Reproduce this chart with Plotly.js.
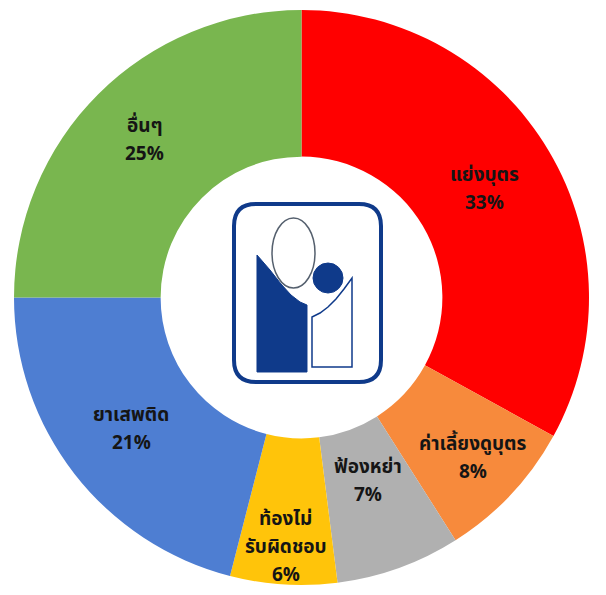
<!DOCTYPE html>
<html>
<head>
<meta charset="utf-8">
<script src="https://cdn.plot.ly/plotly-3.0.1.min.js"></script>
<style>html,body{margin:0;padding:0;background:#fff;}#chart{width:606px;height:595px;}</style>
</head>
<body>
<div id="chart"></div>
<script>
// ---- data ----
var categories = ["แย่งบุตร", "ค่าเลี้ยงดูบุตร", "ฟ้องหย่า", "ท้องไม่ รับผิดชอบ", "ยาเสพติด", "อื่นๆ"];
var labelLines = [["แย่งบุตร"], ["ค่าเลี้ยงดูบุตร"], ["ฟ้องหย่า"], ["ท้องไม่", "รับผิดชอบ"], ["ยาเสพติด"], ["อื่นๆ"]];
var values = [33, 8, 7, 6, 21, 25];
var colors = ["#FF0000", "#F78A3C", "#B0B0B0", "#FFC40A", "#4E7ED2", "#79B64F"];

// ---- layout helpers ----
var W = 606, H = 595;
var dom = {x0: 13, x1: 590, y0: 10, y1: 585};
var cx = (dom.x0 + dom.x1) / 2, cy = (dom.y0 + dom.y1) / 2;
var R = Math.min(dom.x1 - dom.x0, dom.y1 - dom.y0) / 2;
var labelRadius = [0.74, 0.82, 0.68, 0.87, 0.75, 0.77];
var lineStep = 28;
var fontSpec = {family: "Tahoma, 'Noto Sans Thai', 'Noto Sans', 'DejaVu Sans', sans-serif", size: 19, color: '#151515'};

var total = values.reduce(function(a, b){ return a + b; }, 0);
var annotations = [];
var cum = 0;
for (var i = 0; i < values.length; i++) {
  var mid = (cum + values[i] / 2) / total * 2 * Math.PI;
  cum += values[i];
  var rr = R * labelRadius[i];
  var px = cx + rr * Math.sin(mid);
  var py = cy - rr * Math.cos(mid);
  var pct = Math.round(values[i] / total * 100);
  var lines = labelLines[i].concat([pct + '%']);
  for (var j = 0; j < lines.length; j++) {
    var ly = py + (j - (lines.length - 1) / 2) * lineStep;
    annotations.push({
      xref: 'paper', yref: 'paper',
      x: px / W, y: 1 - ly / H,
      xanchor: 'center', yanchor: 'middle',
      showarrow: false,
      borderpad: 0, borderwidth: 0,
      text: '<b>' + lines[j] + '</b>',
      font: fontSpec
    });
  }
}

// logo (decorative) in the hole
var navy = '#0F3A8A';
function P(x, y) { return (x / W).toFixed(5) + ',' + (1 - y / H).toFixed(5); }
function pathOf(pts) {
  var s = 'M' + P(pts[0][0], pts[0][1]);
  for (var k = 1; k < pts.length; k++) s += ' L' + P(pts[k][0], pts[k][1]);
  return s + ' Z';
}
function roundRect(x0, y0, x1, y1, r) {
  var s = 'M' + P(x0 + r, y0);
  s += ' L' + P(x1 - r, y0) + ' Q' + P(x1, y0) + ' ' + P(x1, y0 + r);
  s += ' L' + P(x1, y1 - r) + ' Q' + P(x1, y1) + ' ' + P(x1 - r, y1);
  s += ' L' + P(x0 + r, y1) + ' Q' + P(x0, y1) + ' ' + P(x0, y1 - r);
  s += ' L' + P(x0, y0 + r) + ' Q' + P(x0, y0) + ' ' + P(x0 + r, y0) + ' Z';
  return s;
}
var shapes = [
  {type: 'path', xref: 'paper', yref: 'paper', layer: 'above',
   path: roundRect(234, 204, 381, 382, 22), line: {color: navy, width: 4}, fillcolor: 'rgba(0,0,0,0)'},
  {type: 'path', xref: 'paper', yref: 'paper', layer: 'above',
   path: pathOf([[257,255],[270,270],[281,284],[291,295],[300,302],[307,305],[307,372],[257,372]]),
   line: {color: navy, width: 1}, fillcolor: navy},
  {type: 'path', xref: 'paper', yref: 'paper', layer: 'above',
   path: pathOf([[312,367],[312,317],[320,313],[328,307],[336,299],[344,289],[352,278],[352,367]]),
   line: {color: navy, width: 1.5}, fillcolor: 'rgba(0,0,0,0)'},
  {type: 'circle', xref: 'paper', yref: 'paper', layer: 'above',
   x0: 272/W, x1: 315/W, y0: 1 - 288/H, y1: 1 - 218/H,
   line: {color: '#55606e', width: 1.5}, fillcolor: 'rgba(0,0,0,0)'},
  {type: 'circle', xref: 'paper', yref: 'paper', layer: 'above',
   x0: 313/W, x1: 343/W, y0: 1 - 293/H, y1: 1 - 263/H,
   line: {color: navy, width: 1}, fillcolor: navy}
];

var trace = {
  type: 'pie',
  labels: categories,
  values: values,
  sort: false,
  direction: 'clockwise',
  rotation: 0,
  hole: 0.49,
  textinfo: 'none',
  hoverinfo: 'label+percent',
  marker: {colors: colors, line: {width: 0}},
  domain: {x: [dom.x0 / W, dom.x1 / W], y: [1 - dom.y1 / H, 1 - dom.y0 / H]},
  showlegend: false
};

var layout = {
  width: W, height: H,
  margin: {l: 0, r: 0, t: 0, b: 0},
  paper_bgcolor: '#ffffff',
  showlegend: false,
  annotations: annotations,
  shapes: shapes
};

Plotly.newPlot('chart', [trace], layout, {displayModeBar: false, staticPlot: true});
</script>
</body>
</html>
